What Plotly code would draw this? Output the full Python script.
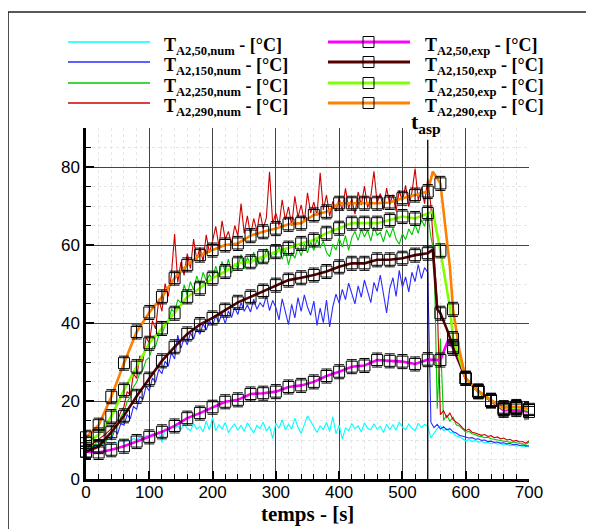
import plotly.graph_objects as go

# ---------------- data ----------------
t_num = list(range(0, 705, 5))

num50 = [8.0, 8.3, 7.9, 8.6, 8.2, 8.9, 8.5, 9.2, 8.8, 9.5, 9.1, 9.8, 9.4, 10.1, 9.7, 10.4, 10.0, 10.8, 10.3, 11.1,
         10.9, 11.6, 11.2, 12.3, 9.4, 12.8, 12.5, 13.4, 12.9, 13.6, 12.7, 14.1, 13.0, 12.4, 14.2, 12.8, 13.5, 12.1, 14.8, 12.6,
         15.8, 12.4, 13.9, 12.8, 14.5, 11.9, 13.2, 14.1, 12.5, 13.8, 12.2, 14.4, 13.1, 11.8, 13.7, 12.9, 14.6, 12.3, 13.5, 10.4,
         14.3, 13.0, 15.2, 12.6, 14.0, 12.8, 15.6, 13.2, 11.7, 13.9, 16.2, 14.8, 13.3, 11.9, 13.6, 12.7, 14.5, 12.2, 16.0, 11.6,
         13.8, 10.2, 13.1, 12.4, 14.2, 12.9, 13.6, 12.1, 14.4, 13.0, 12.6, 14.1, 12.8, 13.5, 11.9, 14.0, 12.7, 13.9, 12.5, 14.6,
         13.3, 12.6, 14.1, 13.0, 12.4, 14.3, 13.2, 14.0, 13.6, 10.5, 11.8, 12.9, 13.6, 12.4, 12.9, 12.0, 11.8, 11.0, 10.8, 10.2,
         9.8, 10.1, 9.6, 9.9, 9.4, 9.7, 9.2, 9.5, 9.0, 9.3, 8.9, 9.1, 8.7, 8.9, 8.5, 8.7, 8.4, 8.6, 8.2, 8.4,
         8.2]

num150 = [7.5, 8.2, 7.8, 8.9, 8.4, 9.6, 9.0, 10.8, 10.1, 12.4, 11.6, 14.2, 13.8, 16.5, 15.4, 18.6, 17.9, 21.2, 20.4, 23.8,
          22.6, 25.9, 24.8, 28.1, 27.0, 30.2, 28.9, 32.4, 30.8, 36.9, 33.5, 36.2, 34.4, 37.5, 35.9, 38.6, 37.1, 39.8, 38.2, 40.5,
          39.4, 41.8, 40.2, 42.6, 39.8, 43.1, 41.4, 44.0, 42.2, 45.3, 43.0, 44.6, 42.8, 46.1, 43.5, 45.2, 44.1, 47.0, 43.2, 45.8,
          44.0, 40.8, 46.2, 42.5, 39.6, 44.8, 41.3, 46.5, 43.0, 47.2, 44.1, 42.0, 45.6, 39.4, 43.8, 40.1, 45.9, 39.0, 44.2, 47.4,
          45.1, 48.6, 46.0, 50.2, 47.3, 44.9, 49.5, 46.6, 51.0, 47.8, 45.2, 50.4, 48.1, 52.3, 47.0, 42.6, 48.9, 51.6, 46.8, 53.5,
          49.2, 51.8, 48.0, 53.0, 50.6, 55.0, 51.4, 54.2, 53.0, 14.5, 13.2, 14.0, 12.8, 13.4, 12.6, 12.9, 12.1, 11.8, 11.2, 11.0,
          10.8, 10.5, 10.6, 10.2, 10.3, 9.9, 10.0, 9.6, 9.7, 9.4, 9.5, 9.2, 9.3, 9.0, 9.1, 8.8, 8.9, 8.6, 8.7, 8.5,
          8.5]

num250 = [8.2, 8.6, 8.3, 9.0, 8.8, 9.5, 9.4, 10.6, 10.9, 12.8, 13.6, 15.9, 17.2, 19.8, 21.0, 23.6, 24.8, 27.2, 28.0, 30.5,
          31.2, 33.8, 34.1, 36.8, 37.0, 39.6, 40.2, 43.5, 42.8, 46.0, 45.1, 49.8, 47.2, 50.6, 48.4, 52.1, 49.6, 53.0, 50.8, 52.4,
          51.2, 54.6, 52.0, 55.8, 53.1, 56.4, 52.8, 55.2, 54.0, 57.6, 53.9, 56.8, 55.0, 58.2, 54.6, 57.0, 55.5, 59.1, 56.2, 58.0,
          57.4, 59.6, 56.3, 58.8, 54.9, 58.1, 56.6, 59.4, 57.2, 60.3, 58.0, 60.9, 58.6, 61.5, 59.2, 61.0, 58.1, 57.0, 60.2, 58.7,
          61.8, 59.5, 62.4, 58.6, 61.9, 63.5, 61.2, 64.0, 62.1, 63.8, 61.0, 64.6, 62.5, 63.2, 60.8, 63.9, 62.0, 64.4, 61.5, 60.2,
          62.9, 61.4, 64.1, 62.6, 65.2, 63.0, 66.5, 64.8, 68.2, 62.0, 58.0, 18.0, 36.0, 15.0, 16.4, 14.8, 15.9, 13.9, 13.6, 12.8,
          12.0, 12.2, 11.6, 11.4, 11.0, 10.9, 10.6, 10.7, 10.3, 10.2, 10.0, 9.9, 9.7, 9.6, 9.4, 9.5, 9.2, 9.1, 9.0, 8.9,
          9.4]

num290 = [8.0, 8.4, 8.9, 9.6, 10.1, 10.8, 11.4, 12.2, 12.9, 14.1, 15.0, 17.2, 18.6, 22.4, 21.5, 27.0, 25.8, 31.6, 30.2, 36.4,
          34.8, 40.6, 38.5, 46.2, 43.0, 50.1, 46.8, 52.5, 62.8, 50.4, 55.6, 52.2, 57.8, 54.0, 61.5, 56.2, 59.4, 55.8, 62.6, 58.0,
          61.0, 64.8, 59.6, 66.2, 61.4, 63.5, 60.2, 65.0, 62.3, 70.6, 63.0, 67.5, 62.4, 66.8, 63.6, 68.4, 64.2, 67.0, 78.8, 65.5,
          68.2, 65.0, 71.6, 66.4, 69.8, 64.9, 72.5, 67.1, 70.3, 66.0, 73.4, 68.2, 71.0, 67.5, 78.5, 69.0, 72.8, 67.4, 71.2, 68.6,
          72.0, 68.8, 74.5, 69.4, 71.8, 67.9, 73.6, 70.2, 75.1, 69.6, 72.4, 78.9, 70.8, 73.2, 69.0, 74.6, 70.4, 72.9, 68.7, 74.0,
          71.2, 75.3, 69.8, 73.5, 79.6, 71.4, 74.8, 70.6, 77.0, 70.0, 58.0, 45.0, 16.5, 17.5, 15.8, 16.9, 15.2, 14.6, 14.0, 13.1,
          12.4, 12.8, 12.0, 11.8, 11.5, 11.2, 11.4, 10.9, 11.1, 10.6, 10.8, 10.3, 10.5, 10.0, 10.2, 9.7, 9.9, 9.5, 9.6, 9.2,
          9.8]

t_exp = list(range(0, 720, 20))
exp50 = [7.0, 6.8, 7.5, 8.4, 9.6, 10.8, 12.1, 13.6, 15.6, 16.9, 18.4, 19.8, 20.3, 21.8, 22.0, 22.4, 23.6, 24.0,
         24.9, 26.4, 27.5, 28.8, 29.1, 30.5, 30.3, 30.1, 29.5, 30.6, 30.5, 33.5, 25.8, 22.4, 20.0, 17.6, 17.8, 17.2]
exp150 = [7.0, 8.3, 12.0, 16.2, 21.2, 25.6, 30.3, 33.9, 37.2, 39.6, 41.3, 43.3, 45.3, 46.7, 48.2, 49.7, 51.0, 51.6,
          52.3, 53.2, 54.4, 55.3, 55.3, 56.2, 56.2, 56.6, 57.4, 57.9, 42.5, 34.0, 25.8, 22.4, 20.1, 18.0, 18.3, 17.7]
exp250 = [9.2, 11.3, 16.0, 22.8, 28.8, 34.8, 38.6, 42.5, 46.7, 48.9, 51.5, 53.2, 55.3, 55.7, 57.0, 58.3, 59.2, 60.4,
          61.3, 63.0, 64.3, 65.6, 65.6, 65.6, 66.4, 67.3, 66.8, 68.2, 58.5, 36.0, 25.8, 22.4, 20.1, 18.0, 18.3, 17.7]
exp290 = [10.7, 13.8, 21.1, 29.7, 37.7, 42.7, 46.7, 51.5, 54.9, 57.4, 58.7, 60.0, 60.4, 62.4, 63.4, 64.2, 65.3, 65.6,
          67.7, 68.5, 70.7, 70.7, 70.7, 70.7, 70.9, 72.0, 72.8, 73.7, 75.8, 43.5, 25.8, 22.6, 20.2, 18.3, 18.6, 18.0]
exp_err = 1.8

# extra points of the measured curves between markers (peaks / drop)
exp50_xt, exp50_xv = [572], [35.5]
exp150_xt, exp150_xv = [548, 555, 570], [58.8, 43.5, 38.5]
exp250_xt, exp250_xv = [548, 575], [68.6, 44.0]
exp290_xt, exp290_xv = [548, 575, 590], [78.8, 54.4, 33.0]

t_asp = 540

legend_labels_num = ["T<sub>A2,50,num</sub> - [°C]", "T<sub>A2,150,num</sub> - [°C]",
                     "T<sub>A2,250,num</sub> - [°C]", "T<sub>A2,290,num</sub> - [°C]"]
legend_labels_exp = ["T<sub>A2,50,exp</sub> - [°C]", "T<sub>A2,150,exp</sub> - [°C]",
                     "T<sub>A2,250,exp</sub> - [°C]", "T<sub>A2,290,exp</sub> - [°C]"]

x_ticks = [0, 100, 200, 300, 400, 500, 600, 700]
y_ticks = [0, 20, 40, 60, 80]

# ---------------- style ----------------
num_colors = ["#00FFFF", "#2B2BFF", "#00C800", "#CC0000"]
exp_colors = ["#FF00FF", "#550000", "#80FF00", "#FF8000"]
SERIF = "Liberation Serif"
SANS = "Liberation Sans"

OFF = 8                      # page body margin of the browser
CW, CH = 594 - OFF, 529 - OFF
L, T, W, H = 86 - OFF, 128 - OFF, 443, 351


def pxx(xp):
    """reference-picture x pixel -> paper coordinate"""
    return (xp - OFF - L) / W


def pxy(yp):
    """reference-picture y pixel -> paper coordinate"""
    return 1 - (yp - OFF - T) / H


fig = go.Figure()

for vals, col in zip([num50, num150, num250, num290], num_colors):
    fig.add_trace(go.Scatter(x=t_num, y=vals, mode="lines",
                             line=dict(color=col, width=1.1), showlegend=False,
                             hoverinfo="skip"))

exp_sets = [(exp50, exp50_xt, exp50_xv), (exp150, exp150_xt, exp150_xv),
            (exp250, exp250_xt, exp250_xv), (exp290, exp290_xt, exp290_xv)]
for (vals, xt, xv), col in zip(exp_sets, exp_colors):
    pts = sorted(list(zip(t_exp, vals)) + list(zip(xt, xv)))
    fig.add_trace(go.Scatter(x=[p[0] for p in pts], y=[p[1] for p in pts], mode="lines",
                             line=dict(color=col, width=2.6), showlegend=False,
                             hoverinfo="skip"))

for vals in [exp50, exp150, exp250, exp290]:
    fig.add_trace(go.Scatter(x=t_exp, y=vals, mode="markers",
                             marker=dict(symbol="square-open", size=11, color="black",
                                         line=dict(width=1, color="black")),
                             error_y=dict(type="constant", value=exp_err, color="black",
                                          thickness=1, width=5),
                             cliponaxis=False, showlegend=False, hoverinfo="skip"))

shapes = []
annotations = []

# t_asp line
shapes.append(dict(type="line", xref="x", yref="y", x0=t_asp, x1=t_asp, y0=0, y1=87,
                   line=dict(color="black", width=1.3)))
annotations.append(dict(xref="x", yref="paper", x=537, y=pxy(139), xanchor="center",
                        yanchor="bottom", showarrow=False,
                        text="<b>t<sub>asp</sub></b>",
                        font=dict(family=SERIF, size=22, color="black")))

# outer frame
shapes.append(dict(type="rect", xref="paper", yref="paper",
                   x0=pxx(8), x1=pxx(620), y0=pxy(560), y1=pxy(12),
                   line=dict(color="#222", width=1.6), layer="above"))

# manual legend
rows = [42, 62, 83, 103]
for i, yrow in enumerate(rows):
    shapes.append(dict(type="line", xref="paper", yref="paper",
                       x0=pxx(68), x1=pxx(150), y0=pxy(yrow), y1=pxy(yrow),
                       line=dict(color=num_colors[i], width=1.6)))
    annotations.append(dict(xref="paper", yref="paper", x=pxx(162), y=pxy(yrow + 4),
                            xanchor="left", yanchor="middle", showarrow=False,
                            text="<b>" + legend_labels_num[i] + "</b>",
                            font=dict(family=SERIF, size=18, color="black")))
    shapes.append(dict(type="line", xref="paper", yref="paper",
                       x0=pxx(328), x1=pxx(410), y0=pxy(yrow), y1=pxy(yrow),
                       line=dict(color=exp_colors[i], width=2.8)))
    shapes.append(dict(type="rect", xref="paper", yref="paper",
                       x0=pxx(363), x1=pxx(374), y0=pxy(yrow + 5.5), y1=pxy(yrow - 5.5),
                       line=dict(color="black", width=1)))
    annotations.append(dict(xref="paper", yref="paper", x=pxx(423), y=pxy(yrow + 4),
                            xanchor="left", yanchor="middle", showarrow=False,
                            text="<b>" + legend_labels_exp[i] + "</b>",
                            font=dict(family=SERIF, size=18, color="black")))

# axis title
annotations.append(dict(xref="paper", yref="paper", x=0.5, y=pxy(514), xanchor="center",
                        yanchor="middle", showarrow=False, text="<b>temps - [s]</b>",
                        font=dict(family=SERIF, size=21, color="black")))

axis_common = dict(
    showline=True, linecolor="black", linewidth=2.5, mirror=False,
    ticks="inside", ticklen=8, tickwidth=2.2, tickcolor="black",
    showgrid=True, gridcolor="#444444", gridwidth=1.3, zeroline=False,
    tickfont=dict(family=SANS, size=17, color="black"),
)

fig.update_layout(
    width=CW, height=CH,
    margin=dict(l=L, r=CW - L - W, t=T, b=CH - T - H),
    paper_bgcolor="white", plot_bgcolor="white",
    showlegend=False,
    shapes=shapes, annotations=annotations,
    xaxis=dict(range=[0, 700], tickvals=x_ticks, ticklabelstandoff=-4, **axis_common,
               minor=dict(dtick=20, tick0=0, ticks="inside", ticklen=5, tickwidth=1.2,
                          tickcolor="black", showgrid=True, gridcolor="#e6e6e6",
                          griddash="dot", gridwidth=1)),
    yaxis=dict(range=[0, 90], tickvals=y_ticks, **axis_common,
               minor=dict(dtick=5, tick0=0, ticks="inside", ticklen=5, tickwidth=1.2,
                          tickcolor="black", showgrid=True, gridcolor="#e6e6e6",
                          griddash="dot", gridwidth=1)),
)

fig.write_html("out.html")
